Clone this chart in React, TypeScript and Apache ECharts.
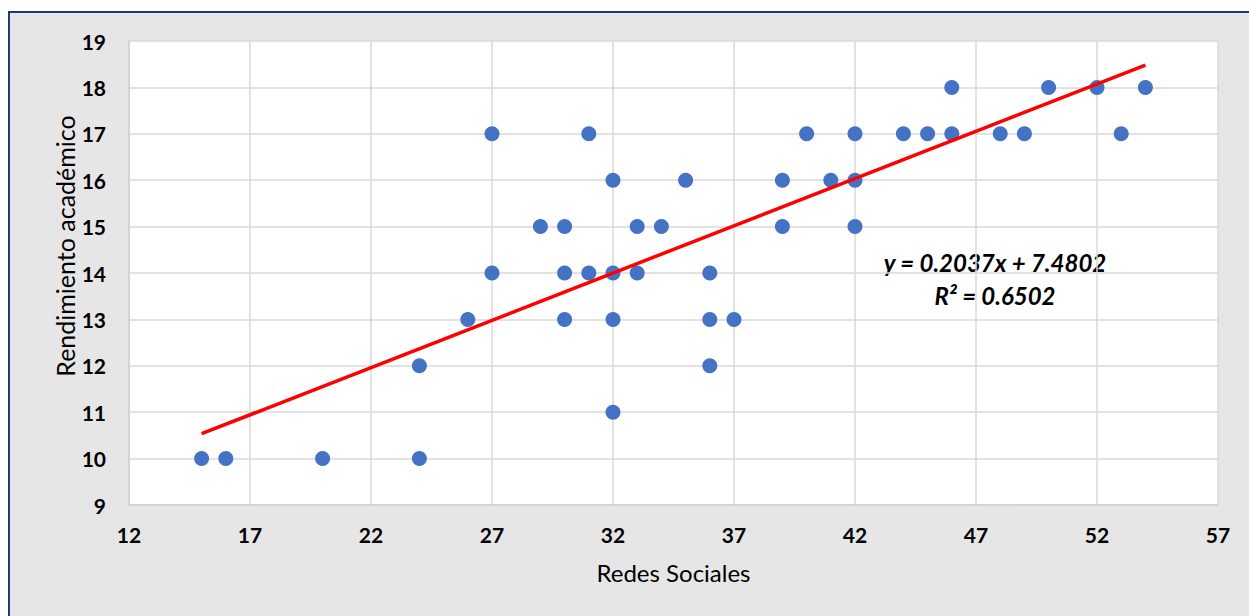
import React, { useEffect, useRef } from "react";
import * as echarts from "echarts";

// Data: (Redes Sociales, Rendimiento académico)
const redesSociales = [
  15, 16, 20, 24,
  32,
  24, 36,
  26, 30, 32, 36, 37,
  27, 30, 31, 32, 33, 36,
  29, 30, 33, 34, 39, 42,
  32, 35, 39, 41, 42,
  27, 31, 40, 42, 44, 45, 46, 48, 49, 53,
  46, 50, 52, 54,
];
const rendimiento = [
  10, 10, 10, 10,
  11,
  12, 12,
  13, 13, 13, 13, 13,
  14, 14, 14, 14, 14, 14,
  15, 15, 15, 15, 15, 15,
  16, 16, 16, 16, 16,
  17, 17, 17, 17, 17, 17, 17, 17, 17, 17,
  18, 18, 18, 18,
];

const trendSlope = 0.2037;
const trendIntercept = 7.4802;
const rSquared = 0.6502;

const xTitle = "Redes Sociales";
const yTitle = "Rendimiento académico";

const FONT = "Lato, 'Noto Sans', sans-serif";

export default function App() {
  const ref = useRef<HTMLDivElement>(null);

  useEffect(() => {
    if (!ref.current) return;
    const chart = echarts.init(ref.current, undefined, { renderer: "svg" });
    const points = redesSociales.map((x, i) => [x, rendimiento[i]]);
    const xMin = Math.min(...redesSociales);
    const xMax = Math.max(...redesSociales);
    const trend = [
      [xMin, trendSlope * xMin + trendIntercept],
      [xMax, trendSlope * xMax + trendIntercept],
    ];

    const eqStyle = {
      fontFamily: FONT,
      fontSize: 24,
      fontWeight: "bold",
      fontStyle: "italic",
      fill: "#000",
      align: "center",
      verticalAlign: "middle",
    };

    chart.setOption({
      animation: false,
      backgroundColor: "#ffffff",
      textStyle: { fontFamily: FONT },
      graphic: [
        {
          type: "rect",
          z: -10,
          silent: true,
          shape: { x: 9, y: 12, width: 1300, height: 700 },
          style: { fill: "#e7e6e6", stroke: "#1f3a7a", lineWidth: 2 },
        },
        {
          type: "text",
          x: 995,
          y: 262,
          style: { ...eqStyle, text: `y = ${trendSlope}x + ${trendIntercept}` },
        },
        {
          type: "text",
          x: 995,
          y: 295,
          style: { ...eqStyle, text: `R² = ${rSquared}` },
        },
        {
          type: "text",
          x: 65,
          y: 246,
          rotation: Math.PI / 2,
          style: {
            text: yTitle,
            fontFamily: FONT,
            fontSize: 25,
            fill: "#000",
            align: "center",
            verticalAlign: "middle",
          },
        },
      ],
      grid: {
        left: 129,
        top: 41,
        right: 31,
        bottom: 111,
        show: true,
        backgroundColor: "#ffffff",
        borderWidth: 0,
      },
      xAxis: {
        type: "value",
        min: 12,
        max: 57,
        interval: 5,
        name: xTitle,
        nameLocation: "middle",
        nameGap: 55,
        nameTextStyle: { fontFamily: FONT, fontSize: 24, color: "#000" },
        axisLine: { show: true, lineStyle: { color: "#d0d0d0", width: 1.5 } },
        axisTick: { show: false },
        axisLabel: {
          margin: 19,
          fontFamily: FONT,
          fontSize: 21,
          fontWeight: "bold",
          color: "#000",
        },
        splitLine: { show: true, lineStyle: { color: "#d9d9d9", width: 1.5 } },
      },
      yAxis: {
        type: "value",
        min: 9,
        max: 19,
        interval: 1,
        axisLine: { show: true, lineStyle: { color: "#d0d0d0", width: 1.5 } },
        axisTick: { show: false },
        axisLabel: {
          margin: 23,
          fontFamily: FONT,
          fontSize: 21,
          fontWeight: "bold",
          color: "#000",
        },
        splitLine: { show: true, lineStyle: { color: "#d9d9d9", width: 1.5 } },
      },
      series: [
        {
          type: "scatter",
          data: points,
          symbol: "circle",
          symbolSize: 15,
          itemStyle: { color: "#4472c4", opacity: 1 },
          z: 2,
        },
        {
          type: "line",
          data: trend,
          symbol: "none",
          lineStyle: { color: "#ff0000", width: 3.5 },
          z: 3,
        },
      ],
    });
    return () => chart.dispose();
  }, []);

  return (
    <div
      ref={ref}
      style={{ position: "fixed", left: 0, top: 0, width: 1249, height: 616 }}
    />
  );
}
